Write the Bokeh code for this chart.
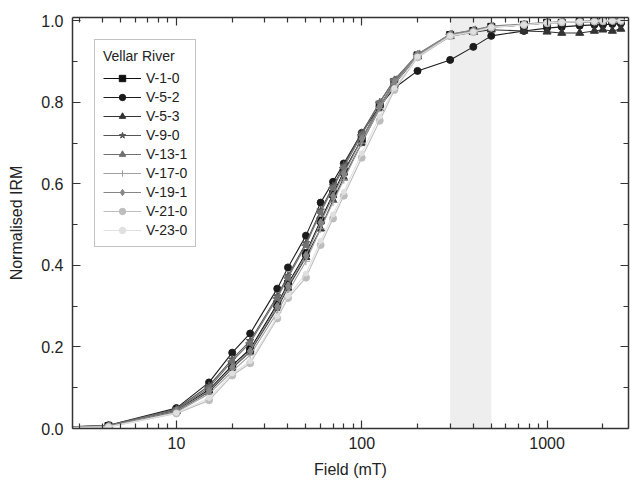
import math
from bokeh.plotting import figure
from bokeh.models import (Range1d, FixedTicker, SingleIntervalTicker, PrintfTickFormatter,
                          CustomJSTickFormatter, LogAxis, LinearAxis, BoxAnnotation, Legend, LegendItem)
from bokeh.embed import file_html
from bokeh.resources import INLINE

field = [2, 4.3, 10, 15, 20, 25, 35, 40, 50, 60, 70, 80, 100, 125, 150, 200,
         300, 400, 500, 750, 1000, 1200, 1500, 1800, 2000, 2250, 2500]

v_1_0 = [0.001, 0.006, 0.045, 0.095, 0.155, 0.195, 0.305, 0.355, 0.430, 0.510, 0.575, 0.630, 0.710, 0.790, 0.850, 0.915,
         0.965, 0.975, 0.985, 0.990, 0.995, 0.995, 0.997, 0.998, 0.998, 0.999, 1.000]
v_5_2 = [0.002, 0.008, 0.050, 0.113, 0.186, 0.233, 0.343, 0.395, 0.473, 0.554, 0.605, 0.650, 0.725, 0.790, 0.835, 0.877,
         0.904, 0.936, 0.963, 0.975, 0.982, 0.985, 0.988, 0.990, 0.990, 0.992, 0.993]
v_5_3 = [0.001, 0.005, 0.042, 0.090, 0.148, 0.188, 0.295, 0.345, 0.420, 0.490, 0.560, 0.615, 0.700, 0.785, 0.845, 0.912,
         0.962, 0.972, 0.978, 0.975, 0.973, 0.970, 0.970, 0.975, 0.978, 0.975, 0.980]
v_9_0 = [0.002, 0.007, 0.048, 0.105, 0.170, 0.215, 0.325, 0.375, 0.455, 0.535, 0.595, 0.645, 0.725, 0.800, 0.855, 0.915,
         0.965, 0.975, 0.985, 0.990, 0.995, 0.997, 0.998, 0.999, 1.000, 1.000, 1.000]
v_13_1 = [0.002, 0.007, 0.046, 0.100, 0.165, 0.210, 0.320, 0.370, 0.450, 0.530, 0.590, 0.640, 0.720, 0.800, 0.855, 0.918,
          0.967, 0.977, 0.986, 0.990, 0.995, 0.997, 0.998, 0.999, 1.000, 1.000, 1.000]
v_17_0 = [0.001, 0.005, 0.040, 0.085, 0.140, 0.180, 0.285, 0.335, 0.410, 0.490, 0.555, 0.610, 0.700, 0.785, 0.845, 0.915,
          0.965, 0.975, 0.985, 0.990, 0.995, 0.997, 0.998, 0.999, 1.000, 1.000, 1.000]
v_19_1 = [0.001, 0.006, 0.043, 0.092, 0.150, 0.190, 0.300, 0.350, 0.425, 0.505, 0.570, 0.625, 0.710, 0.790, 0.850, 0.918,
          0.967, 0.977, 0.987, 0.992, 0.996, 0.997, 0.998, 0.999, 1.000, 1.000, 1.000]
v_21_0 = [0.001, 0.004, 0.037, 0.069, 0.130, 0.160, 0.270, 0.320, 0.370, 0.450, 0.515, 0.571, 0.664, 0.755, 0.830, 0.910,
          0.962, 0.972, 0.983, 0.990, 0.994, 0.996, 0.997, 0.998, 0.999, 1.000, 1.000]
v_23_0 = [0.001, 0.004, 0.038, 0.075, 0.135, 0.165, 0.275, 0.325, 0.380, 0.460, 0.525, 0.580, 0.675, 0.765, 0.835, 0.912,
          0.963, 0.973, 0.984, 0.990, 0.995, 0.997, 0.998, 0.999, 1.000, 1.000, 1.000]

names = ["V-1-0", "V-5-2", "V-5-3", "V-9-0", "V-13-1", "V-17-0", "V-19-1", "V-21-0", "V-23-0"]
series = [v_1_0, v_5_2, v_5_3, v_9_0, v_13_1, v_17_0, v_19_1, v_21_0, v_23_0]
colors = ["#111111", "#1c1c1c", "#333333", "#555555", "#707070", "#a0a0a0", "#858585", "#bdbdbd", "#e0e0e0"]
markers = ["square", "circle", "triangle", "star", "triangle", "cross", "diamond", "circle", "circle"]
angles = [0, 0, 0, 0, math.pi / 2, 0, 0, 0, 0]
sizes = [7, 7, 8, 8, 8, 8, 8, 7, 5]

shade_band = [300, 500]
x_major = [10, 100, 1000]
x_minor = [3, 4, 5, 6, 7, 8, 9, 20, 30, 40, 50, 60, 70, 80, 90,
           200, 300, 400, 500, 600, 700, 800, 900, 2000]

FONT = "Liberation Sans"
AX = "#333333"

p = figure(width=630, height=480, x_axis_type="log", output_backend="svg", toolbar_location=None,
           x_range=Range1d(2.75, 2750), y_range=Range1d(0, 1.008),
           min_border_left=72, min_border_right=2, min_border_top=17, min_border_bottom=52,
           x_axis_label="Field (mT)", y_axis_label="Normalised IRM")
p.grid.visible = False
p.outline_line_color = None
p.background_fill_color = "white"

p.add_layout(BoxAnnotation(left=shade_band[0], right=shade_band[1], fill_color="#eeeeee",
                           fill_alpha=1.0, line_color=None, level="underlay"))

def style(ax, labels=True):
    ax.axis_line_color = AX
    ax.axis_line_width = 1.5
    ax.major_tick_line_color = AX
    ax.minor_tick_line_color = AX
    ax.major_tick_in = 8
    ax.major_tick_out = 0
    ax.minor_tick_in = 5
    ax.minor_tick_out = 0
    ax.major_tick_line_width = 1.2
    ax.minor_tick_line_width = 1.2
    ax.major_label_text_font = FONT
    ax.major_label_text_font_size = "16px"
    ax.major_label_text_color = "#222222"
    ax.axis_label_text_font = FONT
    ax.axis_label_text_font_size = "16px"
    ax.axis_label_text_font_style = "normal"
    ax.axis_label_text_color = "#222222"
    if not labels:
        ax.major_label_standoff = 0
        ax.major_label_text_font_size = "1px"

xt = FixedTicker(ticks=x_major, minor_ticks=x_minor)
yt = SingleIntervalTicker(interval=0.2, num_minor_ticks=2)

p.xaxis.ticker = xt
p.xaxis.formatter = PrintfTickFormatter(format="%d")
p.yaxis.ticker = yt
p.yaxis.formatter = PrintfTickFormatter(format="%.1f")
style(p.xaxis[0])
style(p.yaxis[0])
p.xaxis.major_label_standoff = 8
p.xaxis.axis_label_standoff = 9
p.yaxis.major_label_standoff = 9
p.yaxis.axis_label_standoff = 13

blank = "return ''"
top = LogAxis(ticker=FixedTicker(ticks=x_major, minor_ticks=x_minor),
              formatter=CustomJSTickFormatter(code=blank))
style(top, labels=False)
p.add_layout(top, "above")
right = LinearAxis(ticker=SingleIntervalTicker(interval=0.2, num_minor_ticks=2),
                   formatter=CustomJSTickFormatter(code=blank))
style(right, labels=False)
p.add_layout(right, "right")

items = []
for name, ys, c, m, a, s in zip(names, series, colors, markers, angles, sizes):
    r1 = p.line(field, ys, line_color=c, line_width=1.1)
    r2 = p.scatter(field, ys, marker=m, size=s, angle=a, fill_color=c, line_color=c, line_width=1)
    items.append(LegendItem(label=name, renderers=[r1, r2]))

legend = Legend(items=items, location=(22, 181), title="Vellar River")
legend.margin = 0
legend.padding = 8
legend.spacing = 3
legend.label_height = 16
legend.glyph_height = 16
legend.glyph_width = 38
legend.label_standoff = 5
legend.label_text_font = FONT
legend.label_text_font_size = "14px"
legend.label_text_color = "#222222"
legend.title_text_font = FONT
legend.title_text_font_size = "14px"
legend.title_text_font_style = "normal"
legend.title_text_color = "#222222"
legend.title_standoff = 6
legend.border_line_color = "#888888"
legend.border_line_width = 1
legend.background_fill_alpha = 1.0
p.add_layout(legend, "center")

open("out.html", "w").write(file_html(p, INLINE))
